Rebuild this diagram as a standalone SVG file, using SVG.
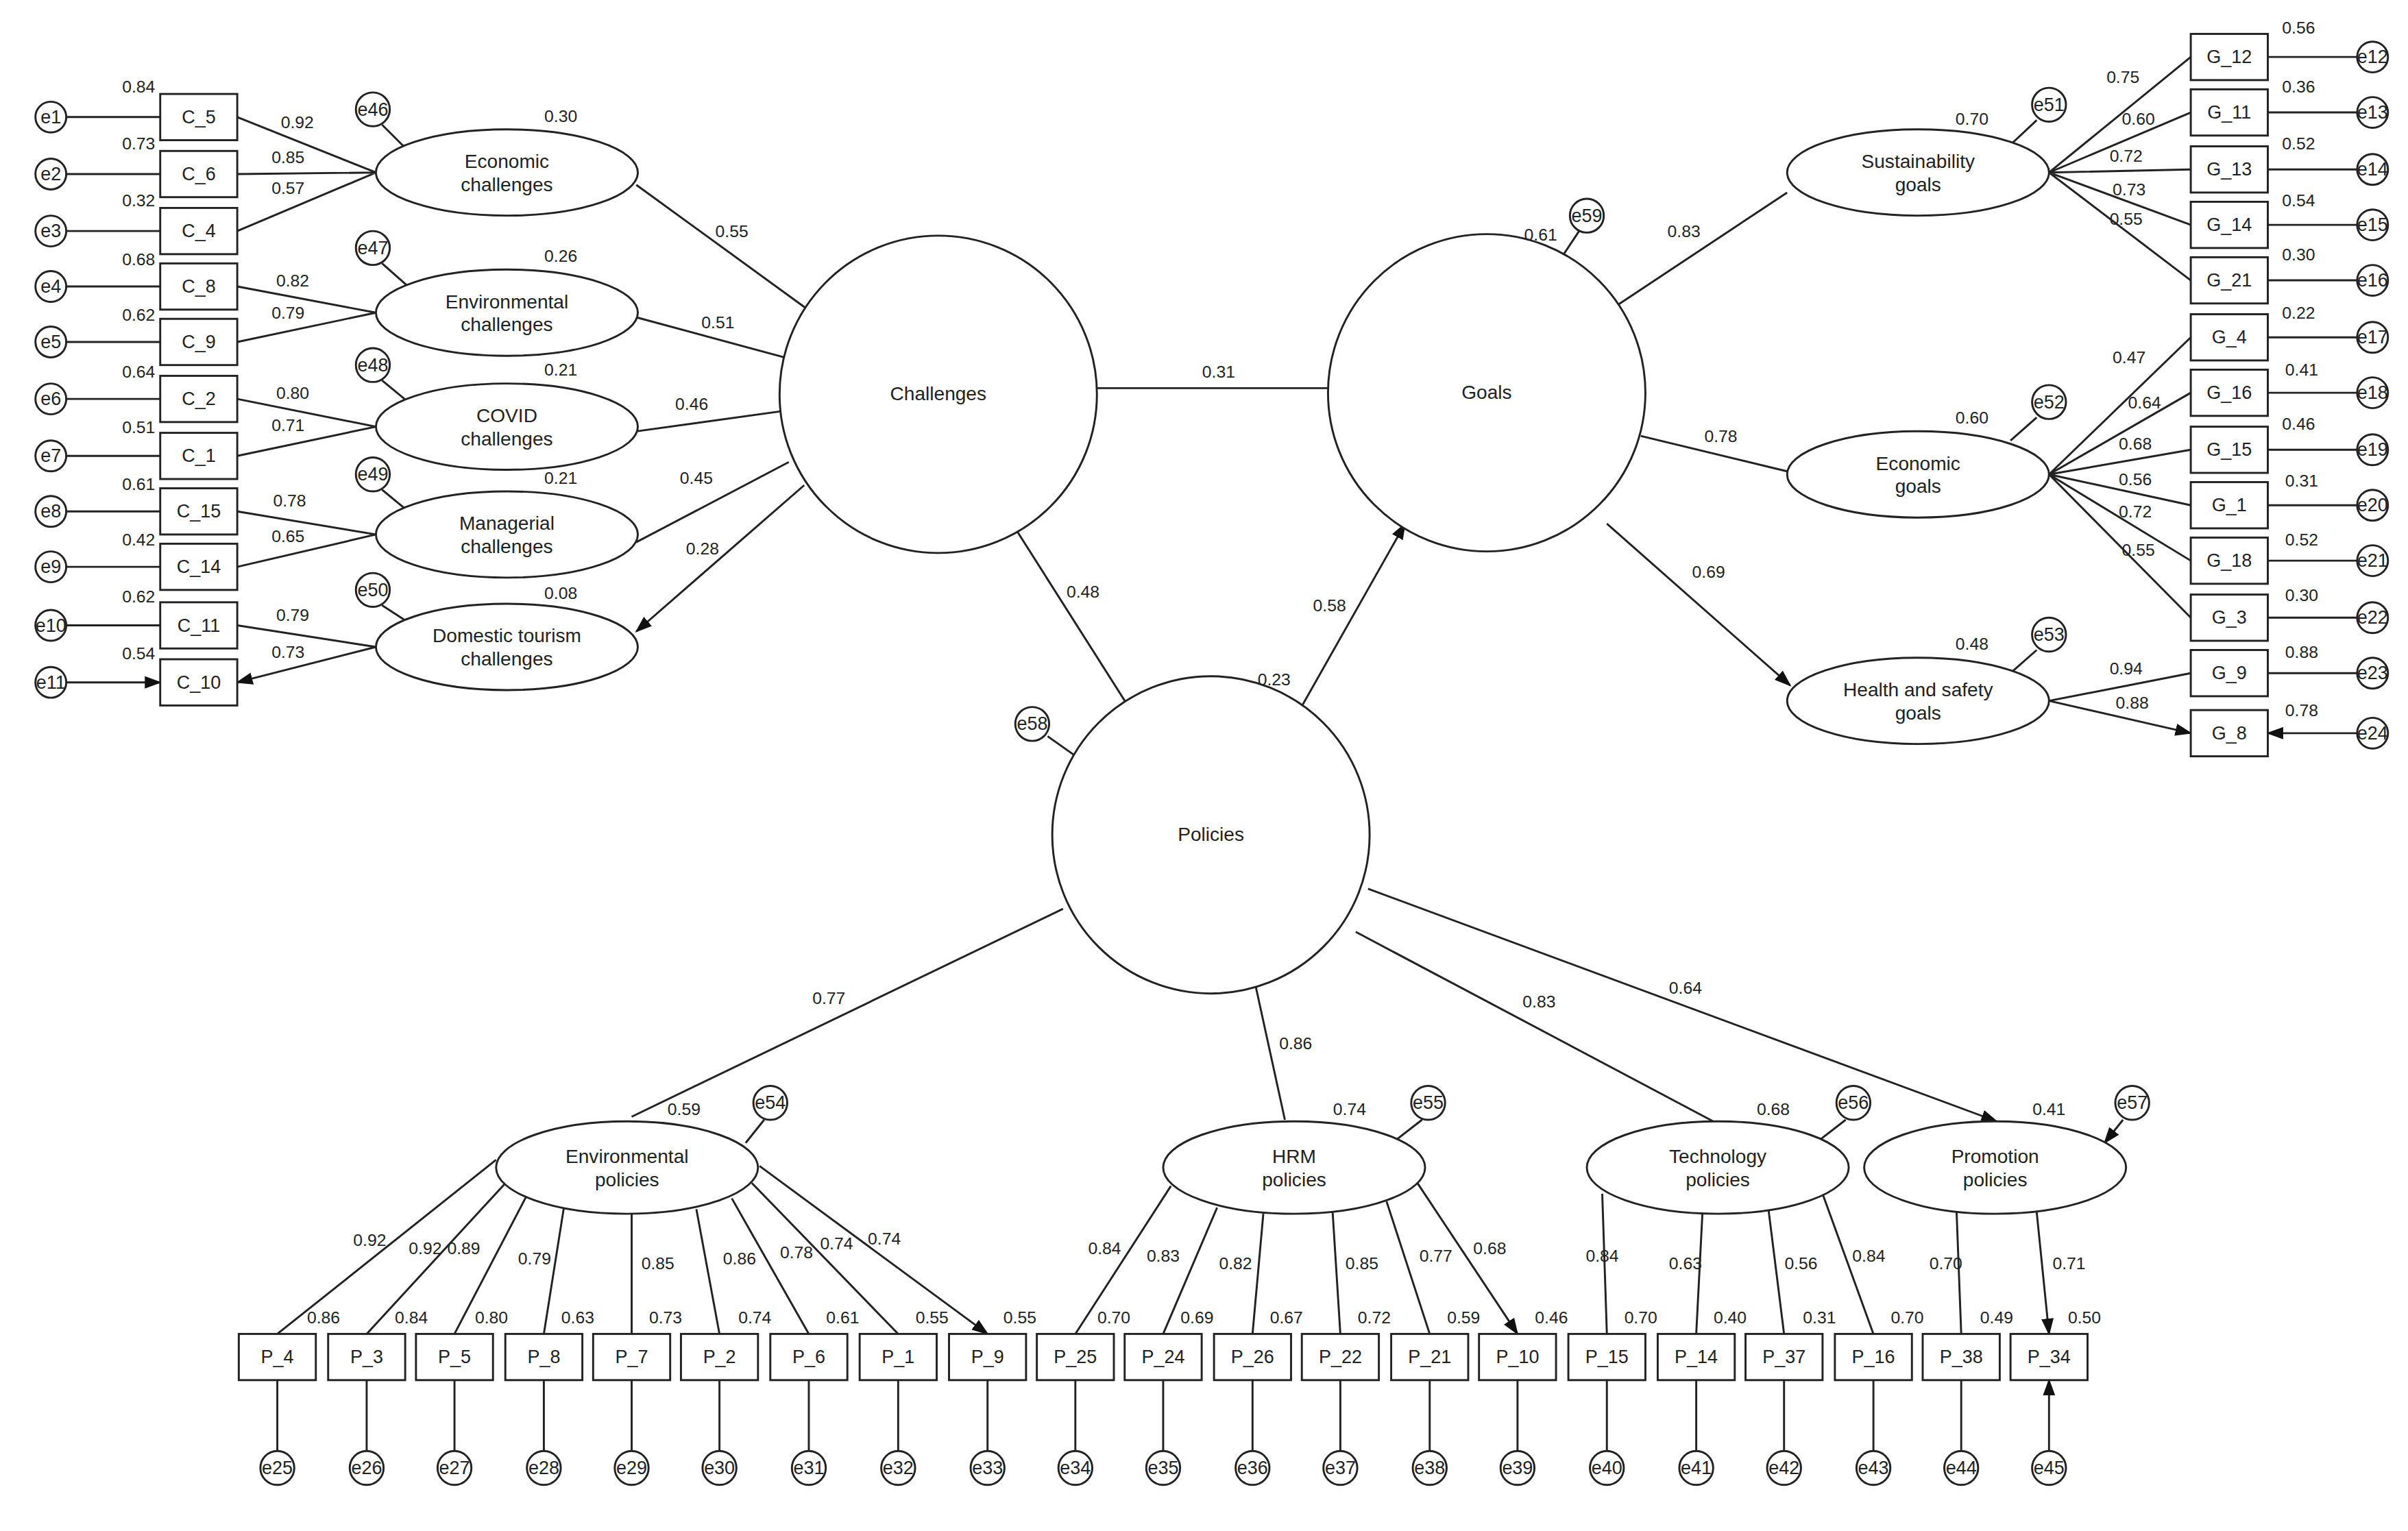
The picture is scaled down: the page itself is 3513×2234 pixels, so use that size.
<svg xmlns="http://www.w3.org/2000/svg" width="3513" height="2234" viewBox="0 0 3513 2234">
<defs>
<marker id="ar" markerUnits="userSpaceOnUse" markerWidth="11" markerHeight="8" refX="10" refY="4" orient="auto"><path d="M0,0 L11,4 L0,8 z" fill="#111"/></marker>
<style>
.l{stroke:#222;stroke-width:1.3;fill:none;marker-end:url(#ar)}
.s{stroke:#222;stroke-width:1.3;fill:#fff}
.n{font-family:"Liberation Sans",Arial,sans-serif;font-size:11px;fill:#222;text-anchor:middle}
.t{font-family:"Liberation Sans",Arial,sans-serif;font-size:12.5px;fill:#222;text-anchor:middle}
.e{font-family:"Liberation Sans",Arial,sans-serif;font-size:12px;fill:#222;text-anchor:middle}
</style>
</defs>
<rect width="3513" height="2234" fill="#fff"/>
<g transform="scale(2.2476)">
<g id="connectors">
<!-- left error arrows -->
<path class="l" d="M43,76H104M43,113H104M43,150H104M43,186H104M43,222H104M43,259H104M43,296H104M43,332H104M43,368H104M43,406H104M43,443H104"/>
<!-- left loadings -->
<path class="l" d="M244,112L154,76M244,112L154,113M244,112L154,150M244,203L154,186M244,203L154,222M244,277L154,259M244,277L154,296M244,347L154,332M244,347L154,368M244,420L154,406M244,420L154,443"/>
<!-- challenges -->
<path class="l" d="M523,200L413,120M509,232L413,206M507,267L413,280M512,300L413,352M522,315L413,410"/>
<path class="l" d="M712,252L862,252M659,343L732,458M843,462L912,340"/>
<!-- goals -->
<path class="l" d="M1050,198L1160,125M1065,283L1160,306M1043,340L1162,445"/>
<path class="l" d="M1330,112L1422,37M1330,112L1422,73M1330,112L1422,110M1330,112L1422,146M1330,112L1422,182M1330,308L1422,219M1330,308L1422,255M1330,308L1422,292M1330,308L1422,328M1330,308L1422,364M1330,308L1422,401M1330,455L1422,437M1330,455L1422,476"/>
<path class="l" d="M1530,37H1472M1530,73H1472M1530,110H1472M1530,146H1472M1530,182H1472M1530,219H1472M1530,255H1472M1530,292H1472M1530,328H1472M1530,364H1472M1530,401H1472M1530,437H1472M1530,476H1472"/>
<!-- disturbances -->
<path class="l" d="M248,81L265,98M248,171L265,186M248,247L265,261M248,318L265,332M248,393L268,406M1322,78L1305,94M1322,271L1305,286M1322,422L1305,437M1025,150L1015,165M680,478L697,490M496,727L484,742M923,727L905,741M1198,727L1180,741M1378,727L1366,742"/>
<!-- policies -->
<path class="l" d="M690,590L410,725M815,640L834,727M880,605L1112,728M888,577L1296,728"/>
<path class="l" d="M322,753L180,866M330,766L238,866M342,776L295,866M366,784L353,866M410,788L410,866M452,785L467,866M475,778L525,866M488,768L583,866M493,757L641,866"/>
<path class="l" d="M760,770L698,866M790,784L755,866M820,788L813,866M865,787L870,866M900,780L928,866M920,768L985,866"/>
<path class="l" d="M1040,775L1043,866M1105,788L1101,866M1148,786L1158,866M1183,775L1216,866M1270,787L1273,866M1322,787L1330,866"/>
<path class="l" d="M180,942V896M238,942V896M295,942V896M353,942V896M410,942V896M467,942V896M525,942V896M583,942V896M641,942V896M698,942V896M755,942V896M813,942V896M870,942V896M928,942V896M985,942V896M1043,942V896M1101,942V896M1158,942V896M1216,942V896M1273,942V896M1330,942V896"/>
</g>
<!-- latent nodes -->
<g id="Challenges"><circle class="s" cx="609" cy="256" r="103"/><text class="t" x="609" y="260">Challenges</text></g>
<g id="Goals"><circle class="s" cx="965" cy="255" r="103"/><text class="t" x="965" y="259">Goals</text></g>
<g id="Policies"><circle class="s" cx="786" cy="542" r="103"/><text class="t" x="786" y="546">Policies</text></g>
<g id="EconCh"><ellipse class="s" cx="329" cy="112" rx="85" ry="28"/><text class="t" x="329" y="109">Economic</text><text class="t" x="329" y="124">challenges</text></g>
<g id="EnvCh"><ellipse class="s" cx="329" cy="203" rx="85" ry="28"/><text class="t" x="329" y="200">Environmental</text><text class="t" x="329" y="215">challenges</text></g>
<g id="CovCh"><ellipse class="s" cx="329" cy="277" rx="85" ry="28"/><text class="t" x="329" y="274">COVID</text><text class="t" x="329" y="289">challenges</text></g>
<g id="ManCh"><ellipse class="s" cx="329" cy="347" rx="85" ry="28"/><text class="t" x="329" y="344">Managerial</text><text class="t" x="329" y="359">challenges</text></g>
<g id="DomCh"><ellipse class="s" cx="329" cy="420" rx="85" ry="28"/><text class="t" x="329" y="417">Domestic tourism</text><text class="t" x="329" y="432">challenges</text></g>
<g id="SusG"><ellipse class="s" cx="1245" cy="112" rx="85" ry="28"/><text class="t" x="1245" y="109">Sustainability</text><text class="t" x="1245" y="124">goals</text></g>
<g id="EcoG"><ellipse class="s" cx="1245" cy="308" rx="85" ry="28"/><text class="t" x="1245" y="305">Economic</text><text class="t" x="1245" y="320">goals</text></g>
<g id="HSG"><ellipse class="s" cx="1245" cy="455" rx="85" ry="28"/><text class="t" x="1245" y="452">Health and safety</text><text class="t" x="1245" y="467">goals</text></g>
<g id="EnvP"><ellipse class="s" cx="407" cy="758" rx="85" ry="30"/><text class="t" x="407" y="755">Environmental</text><text class="t" x="407" y="770">policies</text></g>
<g id="HRMP"><ellipse class="s" cx="840" cy="758" rx="85" ry="30"/><text class="t" x="840" y="755">HRM</text><text class="t" x="840" y="770">policies</text></g>
<g id="TechP"><ellipse class="s" cx="1115" cy="758" rx="85" ry="30"/><text class="t" x="1115" y="755">Technology</text><text class="t" x="1115" y="770">policies</text></g>
<g id="PromP"><ellipse class="s" cx="1295" cy="758" rx="85" ry="30"/><text class="t" x="1295" y="755">Promotion</text><text class="t" x="1295" y="770">policies</text></g>
<!-- C boxes -->
<g id="C_5"><rect class="s" x="104" y="61" width="50" height="30"/><text class="e" x="129" y="80">C_5</text></g>
<g id="C_6"><rect class="s" x="104" y="98" width="50" height="30"/><text class="e" x="129" y="117">C_6</text></g>
<g id="C_4"><rect class="s" x="104" y="135" width="50" height="30"/><text class="e" x="129" y="154">C_4</text></g>
<g id="C_8"><rect class="s" x="104" y="171" width="50" height="30"/><text class="e" x="129" y="190">C_8</text></g>
<g id="C_9"><rect class="s" x="104" y="207" width="50" height="30"/><text class="e" x="129" y="226">C_9</text></g>
<g id="C_2"><rect class="s" x="104" y="244" width="50" height="30"/><text class="e" x="129" y="263">C_2</text></g>
<g id="C_1"><rect class="s" x="104" y="281" width="50" height="30"/><text class="e" x="129" y="300">C_1</text></g>
<g id="C_15"><rect class="s" x="104" y="317" width="50" height="30"/><text class="e" x="129" y="336">C_15</text></g>
<g id="C_14"><rect class="s" x="104" y="353" width="50" height="30"/><text class="e" x="129" y="372">C_14</text></g>
<g id="C_11"><rect class="s" x="104" y="391" width="50" height="30"/><text class="e" x="129" y="410">C_11</text></g>
<g id="C_10"><rect class="s" x="104" y="428" width="50" height="30"/><text class="e" x="129" y="447">C_10</text></g>
<!-- G boxes -->
<g id="G_12"><rect class="s" x="1422" y="22" width="50" height="30"/><text class="e" x="1447" y="41">G_12</text></g>
<g id="G_11"><rect class="s" x="1422" y="58" width="50" height="30"/><text class="e" x="1447" y="77">G_11</text></g>
<g id="G_13"><rect class="s" x="1422" y="95" width="50" height="30"/><text class="e" x="1447" y="114">G_13</text></g>
<g id="G_14"><rect class="s" x="1422" y="131" width="50" height="30"/><text class="e" x="1447" y="150">G_14</text></g>
<g id="G_21"><rect class="s" x="1422" y="167" width="50" height="30"/><text class="e" x="1447" y="186">G_21</text></g>
<g id="G_4"><rect class="s" x="1422" y="204" width="50" height="30"/><text class="e" x="1447" y="223">G_4</text></g>
<g id="G_16"><rect class="s" x="1422" y="240" width="50" height="30"/><text class="e" x="1447" y="259">G_16</text></g>
<g id="G_15"><rect class="s" x="1422" y="277" width="50" height="30"/><text class="e" x="1447" y="296">G_15</text></g>
<g id="G_1"><rect class="s" x="1422" y="313" width="50" height="30"/><text class="e" x="1447" y="332">G_1</text></g>
<g id="G_18"><rect class="s" x="1422" y="349" width="50" height="30"/><text class="e" x="1447" y="368">G_18</text></g>
<g id="G_3"><rect class="s" x="1422" y="386" width="50" height="30"/><text class="e" x="1447" y="405">G_3</text></g>
<g id="G_9"><rect class="s" x="1422" y="422" width="50" height="30"/><text class="e" x="1447" y="441">G_9</text></g>
<g id="G_8"><rect class="s" x="1422" y="461" width="50" height="30"/><text class="e" x="1447" y="480">G_8</text></g>
<!-- P boxes -->
<g id="P_4"><rect class="s" x="155" y="866" width="50" height="30"/><text class="e" x="180" y="885">P_4</text></g>
<g id="P_3"><rect class="s" x="213" y="866" width="50" height="30"/><text class="e" x="238" y="885">P_3</text></g>
<g id="P_5"><rect class="s" x="270" y="866" width="50" height="30"/><text class="e" x="295" y="885">P_5</text></g>
<g id="P_8"><rect class="s" x="328" y="866" width="50" height="30"/><text class="e" x="353" y="885">P_8</text></g>
<g id="P_7"><rect class="s" x="385" y="866" width="50" height="30"/><text class="e" x="410" y="885">P_7</text></g>
<g id="P_2"><rect class="s" x="442" y="866" width="50" height="30"/><text class="e" x="467" y="885">P_2</text></g>
<g id="P_6"><rect class="s" x="500" y="866" width="50" height="30"/><text class="e" x="525" y="885">P_6</text></g>
<g id="P_1"><rect class="s" x="558" y="866" width="50" height="30"/><text class="e" x="583" y="885">P_1</text></g>
<g id="P_9"><rect class="s" x="616" y="866" width="50" height="30"/><text class="e" x="641" y="885">P_9</text></g>
<g id="P_25"><rect class="s" x="673" y="866" width="50" height="30"/><text class="e" x="698" y="885">P_25</text></g>
<g id="P_24"><rect class="s" x="730" y="866" width="50" height="30"/><text class="e" x="755" y="885">P_24</text></g>
<g id="P_26"><rect class="s" x="788" y="866" width="50" height="30"/><text class="e" x="813" y="885">P_26</text></g>
<g id="P_22"><rect class="s" x="845" y="866" width="50" height="30"/><text class="e" x="870" y="885">P_22</text></g>
<g id="P_21"><rect class="s" x="903" y="866" width="50" height="30"/><text class="e" x="928" y="885">P_21</text></g>
<g id="P_10"><rect class="s" x="960" y="866" width="50" height="30"/><text class="e" x="985" y="885">P_10</text></g>
<g id="P_15"><rect class="s" x="1018" y="866" width="50" height="30"/><text class="e" x="1043" y="885">P_15</text></g>
<g id="P_14"><rect class="s" x="1076" y="866" width="50" height="30"/><text class="e" x="1101" y="885">P_14</text></g>
<g id="P_37"><rect class="s" x="1133" y="866" width="50" height="30"/><text class="e" x="1158" y="885">P_37</text></g>
<g id="P_16"><rect class="s" x="1191" y="866" width="50" height="30"/><text class="e" x="1216" y="885">P_16</text></g>
<g id="P_38"><rect class="s" x="1248" y="866" width="50" height="30"/><text class="e" x="1273" y="885">P_38</text></g>
<g id="P_34"><rect class="s" x="1305" y="866" width="50" height="30"/><text class="e" x="1330" y="885">P_34</text></g>
<!-- error circles -->
<g id="errors">
<g id="e1"><circle class="s" cx="33" cy="76" r="10"/><text class="e" x="33" y="80">e1</text></g>
<g id="e2"><circle class="s" cx="33" cy="113" r="10"/><text class="e" x="33" y="117">e2</text></g>
<g id="e3"><circle class="s" cx="33" cy="150" r="10"/><text class="e" x="33" y="154">e3</text></g>
<g id="e4"><circle class="s" cx="33" cy="186" r="10"/><text class="e" x="33" y="190">e4</text></g>
<g id="e5"><circle class="s" cx="33" cy="222" r="10"/><text class="e" x="33" y="226">e5</text></g>
<g id="e6"><circle class="s" cx="33" cy="259" r="10"/><text class="e" x="33" y="263">e6</text></g>
<g id="e7"><circle class="s" cx="33" cy="296" r="10"/><text class="e" x="33" y="300">e7</text></g>
<g id="e8"><circle class="s" cx="33" cy="332" r="10"/><text class="e" x="33" y="336">e8</text></g>
<g id="e9"><circle class="s" cx="33" cy="368" r="10"/><text class="e" x="33" y="372">e9</text></g>
<g id="e10"><circle class="s" cx="33" cy="406" r="10"/><text class="e" x="33" y="410">e10</text></g>
<g id="e11"><circle class="s" cx="33" cy="443" r="10"/><text class="e" x="33" y="447">e11</text></g>
<g id="e12"><circle class="s" cx="1540" cy="37" r="10"/><text class="e" x="1540" y="41">e12</text></g>
<g id="e13"><circle class="s" cx="1540" cy="73" r="10"/><text class="e" x="1540" y="77">e13</text></g>
<g id="e14"><circle class="s" cx="1540" cy="110" r="10"/><text class="e" x="1540" y="114">e14</text></g>
<g id="e15"><circle class="s" cx="1540" cy="146" r="10"/><text class="e" x="1540" y="150">e15</text></g>
<g id="e16"><circle class="s" cx="1540" cy="182" r="10"/><text class="e" x="1540" y="186">e16</text></g>
<g id="e17"><circle class="s" cx="1540" cy="219" r="10"/><text class="e" x="1540" y="223">e17</text></g>
<g id="e18"><circle class="s" cx="1540" cy="255" r="10"/><text class="e" x="1540" y="259">e18</text></g>
<g id="e19"><circle class="s" cx="1540" cy="292" r="10"/><text class="e" x="1540" y="296">e19</text></g>
<g id="e20"><circle class="s" cx="1540" cy="328" r="10"/><text class="e" x="1540" y="332">e20</text></g>
<g id="e21"><circle class="s" cx="1540" cy="364" r="10"/><text class="e" x="1540" y="368">e21</text></g>
<g id="e22"><circle class="s" cx="1540" cy="401" r="10"/><text class="e" x="1540" y="405">e22</text></g>
<g id="e23"><circle class="s" cx="1540" cy="437" r="10"/><text class="e" x="1540" y="441">e23</text></g>
<g id="e24"><circle class="s" cx="1540" cy="476" r="10"/><text class="e" x="1540" y="480">e24</text></g>
<g id="e25"><circle class="s" cx="180" cy="953" r="11"/><text class="e" x="180" y="957">e25</text></g>
<g id="e26"><circle class="s" cx="238" cy="953" r="11"/><text class="e" x="238" y="957">e26</text></g>
<g id="e27"><circle class="s" cx="295" cy="953" r="11"/><text class="e" x="295" y="957">e27</text></g>
<g id="e28"><circle class="s" cx="353" cy="953" r="11"/><text class="e" x="353" y="957">e28</text></g>
<g id="e29"><circle class="s" cx="410" cy="953" r="11"/><text class="e" x="410" y="957">e29</text></g>
<g id="e30"><circle class="s" cx="467" cy="953" r="11"/><text class="e" x="467" y="957">e30</text></g>
<g id="e31"><circle class="s" cx="525" cy="953" r="11"/><text class="e" x="525" y="957">e31</text></g>
<g id="e32"><circle class="s" cx="583" cy="953" r="11"/><text class="e" x="583" y="957">e32</text></g>
<g id="e33"><circle class="s" cx="641" cy="953" r="11"/><text class="e" x="641" y="957">e33</text></g>
<g id="e34"><circle class="s" cx="698" cy="953" r="11"/><text class="e" x="698" y="957">e34</text></g>
<g id="e35"><circle class="s" cx="755" cy="953" r="11"/><text class="e" x="755" y="957">e35</text></g>
<g id="e36"><circle class="s" cx="813" cy="953" r="11"/><text class="e" x="813" y="957">e36</text></g>
<g id="e37"><circle class="s" cx="870" cy="953" r="11"/><text class="e" x="870" y="957">e37</text></g>
<g id="e38"><circle class="s" cx="928" cy="953" r="11"/><text class="e" x="928" y="957">e38</text></g>
<g id="e39"><circle class="s" cx="985" cy="953" r="11"/><text class="e" x="985" y="957">e39</text></g>
<g id="e40"><circle class="s" cx="1043" cy="953" r="11"/><text class="e" x="1043" y="957">e40</text></g>
<g id="e41"><circle class="s" cx="1101" cy="953" r="11"/><text class="e" x="1101" y="957">e41</text></g>
<g id="e42"><circle class="s" cx="1158" cy="953" r="11"/><text class="e" x="1158" y="957">e42</text></g>
<g id="e43"><circle class="s" cx="1216" cy="953" r="11"/><text class="e" x="1216" y="957">e43</text></g>
<g id="e44"><circle class="s" cx="1273" cy="953" r="11"/><text class="e" x="1273" y="957">e44</text></g>
<g id="e45"><circle class="s" cx="1330" cy="953" r="11"/><text class="e" x="1330" y="957">e45</text></g>
<g id="e46"><circle class="s" cx="242" cy="71" r="11"/><text class="e" x="242" y="75">e46</text></g>
<g id="e47"><circle class="s" cx="242" cy="161" r="11"/><text class="e" x="242" y="165">e47</text></g>
<g id="e48"><circle class="s" cx="242" cy="237" r="11"/><text class="e" x="242" y="241">e48</text></g>
<g id="e49"><circle class="s" cx="242" cy="308" r="11"/><text class="e" x="242" y="312">e49</text></g>
<g id="e50"><circle class="s" cx="242" cy="383" r="11"/><text class="e" x="242" y="387">e50</text></g>
<g id="e51"><circle class="s" cx="1330" cy="68" r="11"/><text class="e" x="1330" y="72">e51</text></g>
<g id="e52"><circle class="s" cx="1330" cy="261" r="11"/><text class="e" x="1330" y="265">e52</text></g>
<g id="e53"><circle class="s" cx="1330" cy="412" r="11"/><text class="e" x="1330" y="416">e53</text></g>
<g id="e54"><circle class="s" cx="500" cy="716" r="11"/><text class="e" x="500" y="720">e54</text></g>
<g id="e55"><circle class="s" cx="927" cy="716" r="11"/><text class="e" x="927" y="720">e55</text></g>
<g id="e56"><circle class="s" cx="1203" cy="716" r="11"/><text class="e" x="1203" y="720">e56</text></g>
<g id="e57"><circle class="s" cx="1384" cy="716" r="11"/><text class="e" x="1384" y="720">e57</text></g>
<g id="e58"><circle class="s" cx="670" cy="470" r="11"/><text class="e" x="670" y="474">e58</text></g>
<g id="e59"><circle class="s" cx="1030" cy="140" r="11"/><text class="e" x="1030" y="144">e59</text></g>
</g>
<g id="labels">
<text class="n" x="90" y="60">0.84</text><text class="n" x="90" y="97">0.73</text><text class="n" x="90" y="134">0.32</text><text class="n" x="90" y="172">0.68</text><text class="n" x="90" y="208">0.62</text><text class="n" x="90" y="245">0.64</text><text class="n" x="90" y="281">0.51</text><text class="n" x="90" y="318">0.61</text><text class="n" x="90" y="354">0.42</text><text class="n" x="90" y="391">0.62</text><text class="n" x="90" y="428">0.54</text>
<text class="n" x="193" y="83">0.92</text><text class="n" x="187" y="106">0.85</text><text class="n" x="187" y="126">0.57</text><text class="n" x="190" y="186">0.82</text><text class="n" x="187" y="207">0.79</text><text class="n" x="190" y="259">0.80</text><text class="n" x="187" y="280">0.71</text><text class="n" x="188" y="329">0.78</text><text class="n" x="187" y="352">0.65</text><text class="n" x="190" y="403">0.79</text><text class="n" x="187" y="427">0.73</text>
<text class="n" x="364" y="79">0.30</text><text class="n" x="364" y="170">0.26</text><text class="n" x="364" y="244">0.21</text><text class="n" x="364" y="314">0.21</text><text class="n" x="364" y="389">0.08</text>
<text class="n" x="475" y="154">0.55</text><text class="n" x="466" y="213">0.51</text><text class="n" x="449" y="266">0.46</text><text class="n" x="452" y="314">0.45</text><text class="n" x="456" y="360">0.28</text>
<text class="n" x="791" y="245">0.31</text><text class="n" x="703" y="388">0.48</text><text class="n" x="863" y="397">0.58</text><text class="n" x="827" y="445">0.23</text><text class="n" x="1000" y="156">0.61</text>
<text class="n" x="1093" y="154">0.83</text><text class="n" x="1117" y="287">0.78</text><text class="n" x="1109" y="375">0.69</text>
<text class="n" x="1280" y="81">0.70</text><text class="n" x="1280" y="275">0.60</text><text class="n" x="1280" y="422">0.48</text>
<text class="n" x="1378" y="54">0.75</text><text class="n" x="1388" y="81">0.60</text><text class="n" x="1380" y="105">0.72</text><text class="n" x="1382" y="127">0.73</text><text class="n" x="1380" y="146">0.55</text>
<text class="n" x="1382" y="236">0.47</text><text class="n" x="1392" y="265">0.64</text><text class="n" x="1386" y="292">0.68</text><text class="n" x="1386" y="315">0.56</text><text class="n" x="1386" y="336">0.72</text><text class="n" x="1388" y="361">0.55</text>
<text class="n" x="1380" y="438">0.94</text><text class="n" x="1384" y="460">0.88</text>
<text class="n" x="1492" y="22">0.56</text><text class="n" x="1492" y="60">0.36</text><text class="n" x="1492" y="97">0.52</text><text class="n" x="1492" y="134">0.54</text><text class="n" x="1492" y="169">0.30</text><text class="n" x="1492" y="207">0.22</text><text class="n" x="1494" y="244">0.41</text><text class="n" x="1492" y="279">0.46</text><text class="n" x="1494" y="316">0.31</text><text class="n" x="1494" y="354">0.52</text><text class="n" x="1494" y="390">0.30</text><text class="n" x="1494" y="427">0.88</text><text class="n" x="1494" y="465">0.78</text>
<text class="n" x="538" y="652">0.77</text><text class="n" x="841" y="681">0.86</text><text class="n" x="999" y="654">0.83</text><text class="n" x="1094" y="645">0.64</text>
<text class="n" x="444" y="724">0.59</text><text class="n" x="876" y="724">0.74</text><text class="n" x="1151" y="724">0.68</text><text class="n" x="1330" y="724">0.41</text>
<text class="n" x="240" y="809">0.92</text><text class="n" x="276" y="814">0.92</text><text class="n" x="301" y="814">0.89</text><text class="n" x="347" y="821">0.79</text><text class="n" x="427" y="824">0.85</text><text class="n" x="480" y="821">0.86</text><text class="n" x="517" y="817">0.78</text><text class="n" x="543" y="811">0.74</text><text class="n" x="574" y="808">0.74</text>
<text class="n" x="717" y="814">0.84</text><text class="n" x="755" y="819">0.83</text><text class="n" x="802" y="824">0.82</text><text class="n" x="884" y="824">0.85</text><text class="n" x="932" y="819">0.77</text><text class="n" x="967" y="814">0.68</text>
<text class="n" x="1040" y="819">0.84</text><text class="n" x="1094" y="824">0.63</text><text class="n" x="1169" y="824">0.56</text><text class="n" x="1213" y="819">0.84</text><text class="n" x="1263" y="824">0.70</text><text class="n" x="1343" y="824">0.71</text>
<text class="n" x="210" y="859">0.86</text><text class="n" x="267" y="859">0.84</text><text class="n" x="319" y="859">0.80</text><text class="n" x="375" y="859">0.63</text><text class="n" x="432" y="859">0.73</text><text class="n" x="490" y="859">0.74</text><text class="n" x="547" y="859">0.61</text><text class="n" x="605" y="859">0.55</text><text class="n" x="662" y="859">0.55</text><text class="n" x="723" y="859">0.70</text><text class="n" x="777" y="859">0.69</text><text class="n" x="835" y="859">0.67</text><text class="n" x="892" y="859">0.72</text><text class="n" x="950" y="859">0.59</text><text class="n" x="1007" y="859">0.46</text><text class="n" x="1065" y="859">0.70</text><text class="n" x="1123" y="859">0.40</text><text class="n" x="1181" y="859">0.31</text><text class="n" x="1238" y="859">0.70</text><text class="n" x="1296" y="859">0.49</text><text class="n" x="1353" y="859">0.50</text>
</g>
</g>
</svg>
